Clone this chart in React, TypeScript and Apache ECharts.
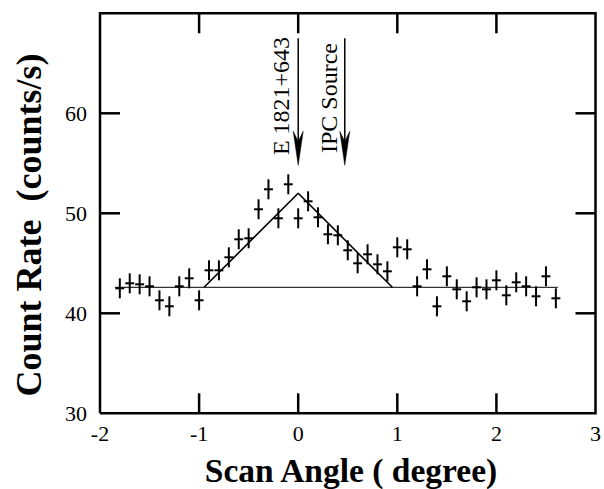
import React, { useEffect, useRef } from "react";
import * as echarts from "echarts";

// Scan angle (degree) of each measurement
const scanAngles = [
  -1.8, -1.7, -1.6, -1.5, -1.4, -1.3, -1.2, -1.1, -1.0, -0.9,
  -0.8, -0.7, -0.6, -0.5, -0.4, -0.3, -0.2, -0.1, 0.0, 0.1,
  0.2, 0.3, 0.4, 0.5, 0.6, 0.7, 0.8, 0.9, 1.0, 1.1,
  1.2, 1.3, 1.4, 1.5, 1.6, 1.7, 1.8, 1.9, 2.0, 2.1,
  2.2, 2.3, 2.4, 2.5, 2.6,
];
// Count rate (counts/s)
const countRates = [
  42.5, 43.0, 42.9, 42.7, 41.3, 40.7, 42.7, 43.5, 41.3, 44.3,
  44.3, 45.6, 47.4, 47.5, 50.4, 52.4, 49.5, 52.9, 49.5, 51.2,
  49.6, 47.9, 47.8, 46.3, 45.0, 45.9, 44.9, 44.2, 46.6, 46.4,
  42.7, 44.4, 40.7, 43.7, 42.4, 41.2, 42.6, 42.4, 43.3, 41.8,
  43.1, 42.7, 41.7, 43.7, 41.5,
];
// 1-sigma count-rate error
const countErrors = [
  1.0, 1.0, 1.0, 1.0, 1.0, 1.0, 1.0, 1.0, 1.0, 1.0,
  1.0, 1.0, 1.0, 1.0, 1.0, 1.0, 1.0, 1.0, 1.0, 1.0,
  1.0, 1.0, 1.0, 1.0, 1.0, 1.0, 1.0, 1.0, 1.0, 1.0,
  1.0, 1.0, 1.0, 1.0, 1.0, 1.0, 1.0, 1.0, 1.0, 1.0,
  1.0, 1.0, 1.0, 1.0, 1.0,
];
const angleHalfBin = 0.045;

// Background level and triangular source-response model
const backgroundLine = [
  [-1.85, 42.6],
  [2.62, 42.6],
];
const triangleModel = [
  [-0.95, 42.6],
  [0.0, 52.0],
  [0.95, 42.6],
];

// Source position arrows: [angle, start count, tip count]
const arrowLabels = ["E 1821+643", "IPC Source"];
const arrowPositions = [
  [0.0, 67.5, 54.8],
  [0.47, 67.5, 54.8],
];

const xTicks = { min: -2, max: 3, interval: 1 };
const yTicks = { min: 30, max: 70, interval: 10 };
// interior tick marks on the frame
const xTickValues = [-1, 0, 1, 2];
const yTickValues = [40, 50, 60];

const FONT = '"Liberation Serif", "Times New Roman", serif';
const TICK_LEN = 20;
const FRAME_W = 2.5;

export default function App() {
  const ref = useRef<HTMLDivElement>(null);

  useEffect(() => {
    if (!ref.current) return;
    const chart = echarts.init(ref.current, undefined, { renderer: "svg" });

    const axisLine = { show: false };
    const axisTick = { show: false };

    const points = scanAngles.map((x, i) => [x, countRates[i], countErrors[i]]);

    const option: any = {
      animation: false,
      backgroundColor: "#fff",
      grid: { left: 100, right: 4, top: 13.3, bottom: 75.7, containLabel: false },
      xAxis: [
        {
          type: "value",
          position: "bottom",
          min: xTicks.min,
          max: xTicks.max,
          interval: xTicks.interval,
          axisLine,
          axisTick,
          splitLine: { show: false },
          axisLabel: {
            color: "#000",
            fontFamily: FONT,
            fontSize: 22,
            margin: 9,
            showMaxLabel: true,
            showMinLabel: true,
          },
        },
      ],
      yAxis: [
        {
          type: "value",
          position: "left",
          min: yTicks.min,
          max: yTicks.max,
          interval: yTicks.interval,
          axisLine,
          axisTick,
          splitLine: { show: false },
          axisLabel: {
            color: "#000",
            fontFamily: FONT,
            fontSize: 22,
            margin: 13,
            formatter: (v: number) => (v === yTicks.max ? "" : String(v)),
          },
        },
      ],
      series: [
        {
          // frame box and its inward tick marks, placed through the axes' scales
          type: "custom",
          data: [[xTicks.min, yTicks.min, xTicks.max, yTicks.max]],
          silent: true,
          z: 8,
          renderItem: (params: any, api: any) => {
            const bl = api.coord([api.value(0), api.value(1)]);
            const tr = api.coord([api.value(2), api.value(3)]);
            const style = { stroke: "#000", lineWidth: FRAME_W, fill: "none" };
            const children: any[] = [
              {
                type: "polyline",
                shape: {
                  points: [
                    [bl[0], bl[1]],
                    [tr[0], bl[1]],
                    [tr[0], tr[1]],
                    [bl[0], tr[1]],
                    [bl[0], bl[1]],
                  ],
                },
                style: { stroke: "#000", lineWidth: FRAME_W, fill: null },
              },
            ];
            xTickValues.forEach((v) => {
              const p = api.coord([v, yTicks.min]);
              children.push({
                type: "line",
                shape: { x1: p[0], y1: bl[1], x2: p[0], y2: bl[1] - TICK_LEN },
                style,
              });
              children.push({
                type: "line",
                shape: { x1: p[0], y1: tr[1], x2: p[0], y2: tr[1] + TICK_LEN },
                style,
              });
            });
            yTickValues.forEach((v) => {
              const p = api.coord([xTicks.min, v]);
              children.push({
                type: "line",
                shape: { x1: bl[0], y1: p[1], x2: bl[0] + TICK_LEN, y2: p[1] },
                style,
              });
              children.push({
                type: "line",
                shape: { x1: tr[0], y1: p[1], x2: tr[0] - TICK_LEN, y2: p[1] },
                style,
              });
            });
            return { type: "group", children };
          },
        },
        {
          type: "line",
          data: backgroundLine,
          symbol: "none",
          lineStyle: { color: "#000", width: 1 },
          silent: true,
        },
        {
          type: "line",
          data: triangleModel,
          symbol: "none",
          lineStyle: { color: "#000", width: 1.6 },
          silent: true,
        },
        {
          type: "custom",
          data: points,
          renderItem: (params: any, api: any) => {
            const x = api.value(0);
            const y = api.value(1);
            const e = api.value(2);
            const top = api.coord([x, y + e]);
            const bot = api.coord([x, y - e]);
            const l = api.coord([x - angleHalfBin, y]);
            const r = api.coord([x + angleHalfBin, y]);
            return {
              type: "group",
              children: [
                {
                  type: "line",
                  shape: { x1: top[0], y1: top[1], x2: bot[0], y2: bot[1] },
                  style: { stroke: "#000", lineWidth: 2 },
                },
                {
                  type: "line",
                  shape: { x1: l[0], y1: l[1], x2: r[0], y2: r[1] },
                  style: { stroke: "#000", lineWidth: 2 },
                },
              ],
            };
          },
          silent: true,
        },
        {
          type: "custom",
          data: arrowPositions,
          renderItem: (params: any, api: any) => {
            const x = api.value(0);
            const y1 = api.value(1);
            const y2 = api.value(2);
            const start = api.coord([x, y1]);
            const tip = api.coord([x, y2]);
            const hl = 34;
            const hw = 5;
            return {
              type: "group",
              children: [
                {
                  type: "line",
                  shape: { x1: start[0], y1: start[1], x2: tip[0], y2: tip[1] - 20 },
                  style: { stroke: "#000", lineWidth: 1.5 },
                },
                {
                  type: "polygon",
                  shape: {
                    points: [
                      [tip[0], tip[1]],
                      [tip[0] - hw, tip[1] - hl],
                      [tip[0], tip[1] - hl * 0.7],
                      [tip[0] + hw, tip[1] - hl],
                    ],
                  },
                  style: { fill: "#000", stroke: "#000", lineWidth: 0.5 },
                },
              ],
            };
          },
          silent: true,
        },
      ],
      graphic: [
        {
          type: "text",
          x: 29,
          y: 225,
          rotation: Math.PI / 2,
          style: {
            text: "Count Rate  (counts/s)",
            font: `bold 36px ${FONT}`,
            fill: "#000",
            textAlign: "center",
            textVerticalAlign: "middle",
          },
        },
        {
          type: "text",
          x: 351,
          y: 470,
          style: {
            text: "Scan Angle ( degree)",
            font: `bold 33.5px ${FONT}`,
            fill: "#000",
            textAlign: "center",
            textVerticalAlign: "middle",
          },
        },
        {
          type: "text",
          x: 281,
          y: 96,
          rotation: Math.PI / 2,
          style: {
            text: arrowLabels[0],
            font: `24px ${FONT}`,
            fill: "#000",
            textAlign: "center",
            textVerticalAlign: "middle",
          },
        },
        {
          type: "text",
          x: 329,
          y: 98,
          rotation: Math.PI / 2,
          style: {
            text: arrowLabels[1],
            font: `24px ${FONT}`,
            fill: "#000",
            textAlign: "center",
            textVerticalAlign: "middle",
          },
        },
      ],
    };

    chart.setOption(option);
    return () => chart.dispose();
  }, []);

  return (
    <div
      ref={ref}
      style={{ position: "fixed", left: 0, top: 0, width: 604, height: 489, background: "#fff" }}
    />
  );
}
